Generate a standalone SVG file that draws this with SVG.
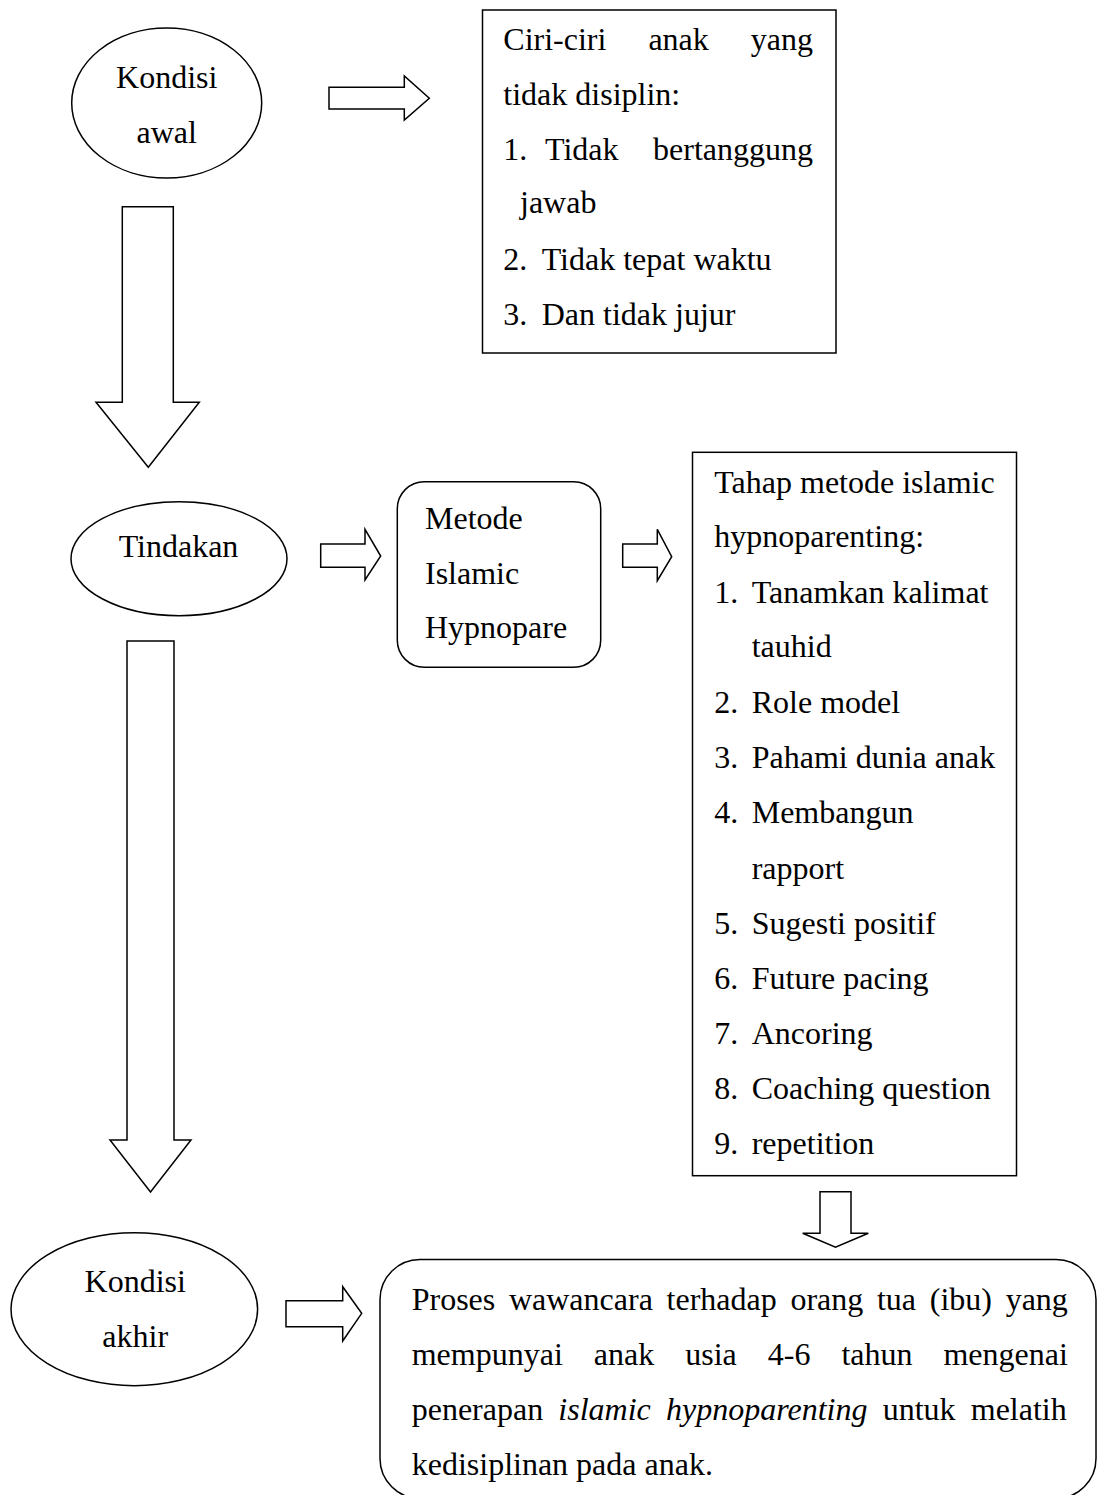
<svg xmlns="http://www.w3.org/2000/svg" width="1097" height="1495" viewBox="0 0 1097 1495">
<style>
.s{fill:#fff;stroke:#000;stroke-width:1.5}
.t{font-family:"Liberation Serif","Times New Roman",serif;font-size:32px;fill:#000}
.c{text-anchor:middle}
</style>
<rect width="1097" height="1495" fill="#fff"/>
<g id="connectors">
<polygon class="s" points="329,87.3 404.3,87.3 404.3,76 429.3,98.3 404.3,120 404.3,109 329,109"/>
<polygon class="s" points="320.7,544 365,544 365,529.3 380.7,556 365,580 365,567.3 320.7,567.3"/>
<polygon class="s" points="622.7,544 657.3,544 657.3,529.3 671.7,556.7 657.3,580.7 657.3,567.3 622.7,567.3"/>
<polygon class="s" points="286,1300.7 342.7,1300.7 342.7,1286.7 361.7,1313.3 342.7,1341 342.7,1326.7 286,1326.7"/>
<polygon class="s" points="122.3,206.7 173.3,206.7 173.3,402.3 199.3,402.3 148.3,467.3 96,402.3 122.3,402.3"/>
<polygon class="s" points="127,641 174,641 174,1140 191,1140 150.5,1192 110,1140 127,1140"/>
<polygon class="s" points="820,1191.7 851,1191.7 851,1233.3 868.3,1233.3 835.5,1247.3 802.7,1233.3 820,1233.3"/>
</g>
<g id="kondisi-awal">
<ellipse class="s" cx="166.7" cy="103" rx="95" ry="75"/>
<text class="t c" x="166.7" y="88">Kondisi</text>
<text class="t c" x="166.7" y="143">awal</text>
</g>
<g id="ciri-ciri">
<rect class="s" x="482.5" y="10" width="353.5" height="343"/>
<text class="t" x="503.3" y="50" style="word-spacing:34px">Ciri-ciri anak yang</text>
<text class="t" x="503.3" y="105">tidak disiplin:</text>
<text class="t" x="503.3" y="160">1.</text>
<text class="t" x="545" y="160">Tidak</text>
<text class="t" x="813" y="160" text-anchor="end">bertanggung</text>
<text class="t" x="520" y="213">jawab</text>
<text class="t" x="503.3" y="270">2.</text>
<text class="t" x="541.7" y="270">Tidak tepat waktu</text>
<text class="t" x="503.3" y="325">3.</text>
<text class="t" x="541.7" y="325">Dan tidak jujur</text>
</g>
<g id="tindakan">
<ellipse class="s" cx="179" cy="558.7" rx="108" ry="57"/>
<text class="t c" x="178.5" y="557.3">Tindakan</text>
</g>
<g id="metode">
<rect class="s" x="397.3" y="481.7" width="203.4" height="185.6" rx="27"/>
<text class="t" x="425" y="529.3">Metode</text>
<text class="t" x="425" y="584">Islamic</text>
<text class="t" x="425" y="638.3">Hypnopare</text>
</g>
<g id="tahap">
<rect class="s" x="692.5" y="452.3" width="324" height="723.4"/>
<text class="t" x="714.3" y="492.7">Tahap metode islamic</text>
<text class="t" x="714.3" y="547.3">hypnoparenting:</text>
<text class="t" x="714.3" y="602.7">1.</text><text class="t" x="751.7" y="602.7">Tanamkan kalimat</text>
<text class="t" x="751.7" y="657.3">tauhid</text>
<text class="t" x="714.3" y="713.3">2.</text><text class="t" x="751.7" y="713.3">Role model</text>
<text class="t" x="714.3" y="768.3">3.</text><text class="t" x="751.7" y="768.3">Pahami dunia anak</text>
<text class="t" x="714.3" y="822.7">4.</text><text class="t" x="751.7" y="822.7">Membangun</text>
<text class="t" x="751.7" y="879.3">rapport</text>
<text class="t" x="714.3" y="934">5.</text><text class="t" x="751.7" y="934">Sugesti positif</text>
<text class="t" x="714.3" y="989.3">6.</text><text class="t" x="751.7" y="989.3">Future pacing</text>
<text class="t" x="714.3" y="1044">7.</text><text class="t" x="751.7" y="1044">Ancoring</text>
<text class="t" x="714.3" y="1099.3">8.</text><text class="t" x="751.7" y="1099.3">Coaching question</text>
<text class="t" x="714.3" y="1154">9.</text><text class="t" x="751.7" y="1154">repetition</text>
</g>
<g id="kondisi-akhir">
<ellipse class="s" cx="134.3" cy="1309.2" rx="123.3" ry="76.5"/>
<text class="t c" x="135.2" y="1291.7">Kondisi</text>
<text class="t c" x="135.2" y="1346.7">akhir</text>
</g>
<g id="proses">
<rect class="s" x="380" y="1259.5" width="716" height="239" rx="40"/>
<text class="t" x="411.7" y="1310" style="word-spacing:5.7px">Proses wawancara terhadap orang tua (ibu) yang</text>
<text class="t" x="411.7" y="1365" style="word-spacing:23px">mempunyai anak usia 4-6 tahun mengenai</text>
<text class="t" x="411.7" y="1420" style="word-spacing:7.2px">penerapan <tspan font-style="italic">islamic hypnoparenting</tspan> untuk melatih</text>
<text class="t" x="411.7" y="1475">kedisiplinan pada anak.</text>
</g>
</svg>
